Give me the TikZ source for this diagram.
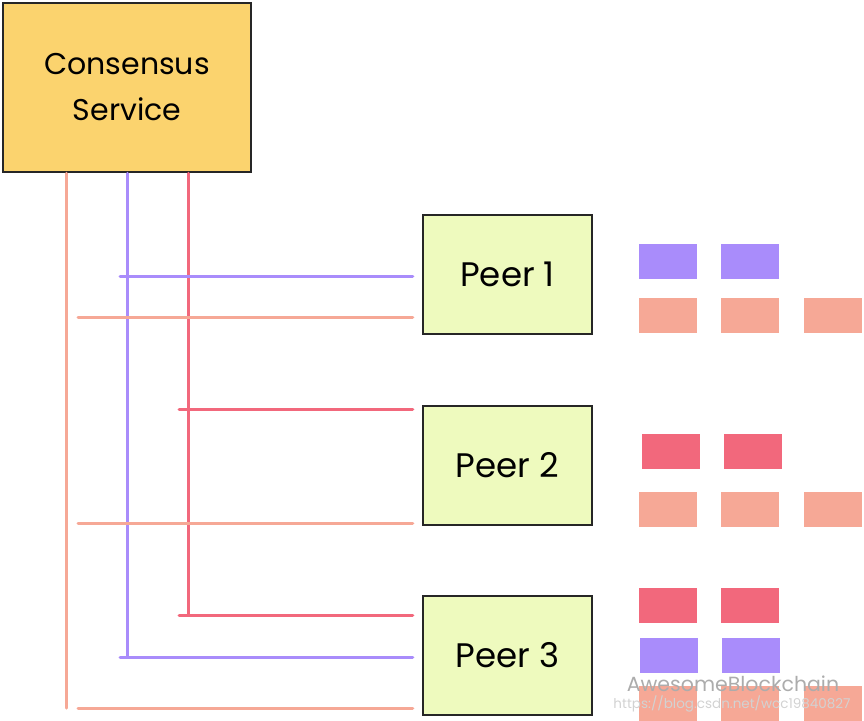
\documentclass[tikz,border=0pt]{standalone}
\usepackage{fontspec}
\setmainfont{Poppins}
\newfontfamily\wmfont{Liberation Sans}
\usetikzlibrary{positioning}
\definecolor{csyellow}{HTML}{FBD36E}
\definecolor{peergreen}{HTML}{EEFABE}
\definecolor{lavender}{HTML}{A98CFB}
\definecolor{salmon}{HTML}{F6A896}
\definecolor{rosered}{HTML}{F2687C}
\tikzset{
  service/.style={rectangle, draw=black!85, line width=2.5pt, fill=csyellow,
    minimum width=248pt, minimum height=169pt, inner sep=0pt,
    align=center, font=\fontsize{30}{46}\selectfont},
  peer/.style={rectangle, draw=black!85, line width=2.5pt, fill=peergreen,
    minimum width=169pt, minimum height=119pt, inner sep=0pt,
    font=\fontsize{34}{40}\selectfont},
  chunk/.style={rectangle, minimum width=58pt, minimum height=35pt, inner sep=0pt},
  link/.style={line width=3pt, line cap=round},
  branch/.style={link, shorten >=9pt},
  mark text/.style={inner sep=0pt, font=\wmfont}
}

\begin{document}
\begin{tikzpicture}[x=1pt, y=-1pt]
\useasboundingbox (0,0) rectangle (864,720);

% nodes
\node[service] (cs) at (127,87.5) {Consensus\\Service};
\node[peer] (p1) at (507.5,274.5) {Peer 1};
\node[peer] (p2) at (507.5,465.5) {Peer 2};
\node[peer] (p3) at (507.5,655.5) {Peer 3};

% trunk corners
\coordinate (sx) at (66,708);
\coordinate (vx) at (127,657);
\coordinate (rx) at (188,615);

% trunks
\draw[link, salmon]  (cs.south -| sx) -- (sx);
\draw[link, lavender] (cs.south -| vx) -- (vx);
\draw[link, rosered] (cs.south -| rx) -- (rx);

% branches
\foreach \y/\p in {317/p1, 523/p2, 708/p3}
  \draw[branch, salmon, shorten <=12pt] (sx |- 0,\y) -- (\p.west |- 0,\y);
\foreach \y/\p in {276/p1, 657/p3}
  \draw[branch, lavender, shorten <=-7pt] (vx |- 0,\y) -- (\p.west |- 0,\y);
\foreach \y/\p in {409/p2, 615/p3}
  \draw[branch, rosered, shorten <=-9pt] (rx |- 0,\y) -- (\p.west |- 0,\y);

% blocks of peer 1
\node[chunk, fill=lavender] (a1) at (667.5,261.5) {};
\node[chunk, fill=lavender] (a2) at (750,261.5) {};
\node[chunk, fill=salmon] (a3) at (667.5,315.5) {};
\node[chunk, fill=salmon] (a4) at (750,315.5) {};
\node[chunk, fill=salmon] (a5) at (833,315.5) {};

% blocks of peer 2
\node[chunk, fill=rosered] (b1) at (671,451.5) {};
\node[chunk, fill=rosered] (b2) at (753,451.5) {};
\node[chunk, fill=salmon] (b3) at (667.5,509) {};
\node[chunk, fill=salmon] (b4) at (750,509) {};
\node[chunk, fill=salmon] (b5) at (833,509) {};

% blocks of peer 3
\node[chunk, fill=rosered] (c1) at (667.5,605.5) {};
\node[chunk, fill=rosered] (c2) at (750,605.5) {};
\node[chunk, fill=lavender] (c3) at (669,655.5) {};
\node[chunk, fill=lavender] (c4) at (751,655.5) {};
\node[chunk, fill=salmon] (c5) at (667.5,703) {};
\node[chunk, fill=salmon] (c6) at (750,703) {};
\node[chunk, fill=salmon] (c7) at (833,703) {};

% watermark
\node[mark text, text=gray!65, font=\fontsize{20.5}{21}\selectfont] (wm) at (733,684) {AwesomeBlockchain};
\node[mark text, text=gray!35, font=\fontsize{13.5}{14}\selectfont] (url) at (732,704) {https://blog.csdn.net/wcc19840827};

\end{tikzpicture}
\end{document}
